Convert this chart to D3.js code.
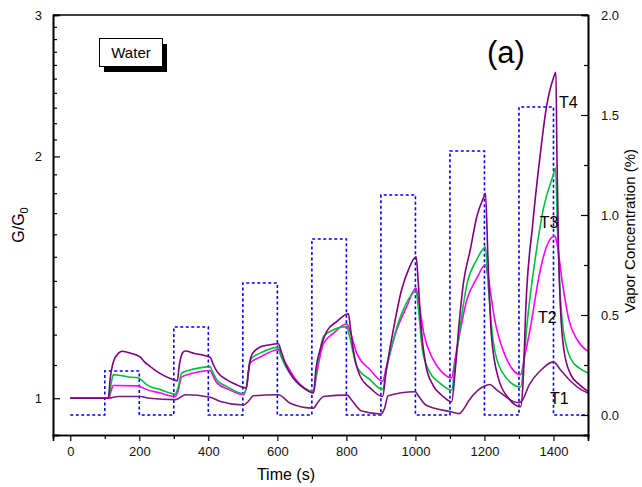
<!DOCTYPE html>
<html>
<head>
<meta charset="utf-8">
<script src="https://cdn.jsdelivr.net/npm/d3@7"></script>
<style>
  html, body { margin: 0; padding: 0; background: #fff; overflow: hidden; }
  svg { display: block; }
  text { font-family: "Liberation Sans", Arial, sans-serif; }
</style>
</head>
<body>
<div id="chart"></div>
<script>
// G/G0 response of four sensors (T1..T4) to water vapour pulses

const xTicks = [0, 200, 400, 600, 800, 1000, 1200, 1400];
const xMinor = [100, 300, 500, 700, 900, 1100, 1300, 1500];
const gTicks = [1, 2, 3];
const gMinor = [1.1, 1.2, 1.3, 1.4, 1.5, 1.6, 1.7, 1.8, 1.9, 2.1, 2.2, 2.3, 2.4, 2.5, 2.6, 2.7, 2.8, 2.9];
const cTicks = [0, 0.5, 1.0, 1.5, 2.0];
const cMinor = [0.25, 0.75, 1.25, 1.75];

// vapour concentration steps (%)
const pulseTime = [0, 100, 100, 200, 200, 300, 300, 400, 400, 500, 500, 600, 600, 700, 700, 800, 800, 900, 900, 1000, 1000, 1100, 1100, 1200, 1200, 1300, 1300, 1400, 1400, 1500];
const pulseConc = [0, 0, 0.22, 0.22, 0, 0, 0.44, 0.44, 0, 0, 0.66, 0.66, 0, 0, 0.88, 0.88, 0, 0, 1.10, 1.10, 0, 0, 1.32, 1.32, 0, 0, 1.54, 1.54, 0, 0];

// T4
const t4Time = [0, 110, 116, 125, 140, 150, 175, 203, 215, 232, 261, 290, 310, 316, 326, 333, 360, 405, 415, 425, 454, 480, 510, 516, 526, 550, 575, 603, 612, 627, 646, 670, 705, 712, 724, 743, 772, 806, 812, 820, 840, 869, 905, 915, 936, 960, 980, 1002, 1008, 1015, 1030, 1050, 1075, 1105, 1115, 1125, 1139, 1159, 1178, 1198, 1203, 1210, 1220, 1240, 1270, 1305, 1312, 1320, 1340, 1361, 1380, 1400, 1407, 1410, 1415, 1420, 1430, 1450, 1475, 1500];
const t4Vals = [1.0, 1.0, 1.06, 1.11, 1.138, 1.144, 1.138, 1.125, 1.11, 1.095, 1.073, 1.058, 1.051, 1.10, 1.14, 1.145, 1.137, 1.125, 1.10, 1.08, 1.054, 1.04, 1.03, 1.08, 1.133, 1.158, 1.165, 1.169, 1.14, 1.095, 1.06, 1.035, 1.015, 1.09, 1.149, 1.211, 1.246, 1.274, 1.22, 1.149, 1.065, 1.03, 1.005, 1.08, 1.217, 1.365, 1.446, 1.50, 1.40, 1.25, 1.10, 1.04, 1.01, 0.99, 1.08, 1.217, 1.391, 1.531, 1.684, 1.78, 1.80, 1.50, 1.20, 1.06, 1.0, 0.976, 1.05, 1.30, 1.65, 2.0, 2.31, 2.505, 2.546, 2.0, 1.5, 1.3, 1.15, 1.07, 1.04, 1.02];

// T3
const t3Time = [0, 112, 118, 125, 140, 170, 198, 205, 222, 261, 304, 312, 323, 357, 405, 412, 425, 454, 502, 512, 521, 550, 603, 610, 627, 646, 705, 712, 734, 753, 801, 808, 830, 869, 905, 915, 940, 965, 1002, 1008, 1020, 1040, 1070, 1105, 1115, 1150, 1178, 1203, 1210, 1225, 1250, 1305, 1315, 1322, 1351, 1370, 1400, 1406, 1412, 1419, 1428, 1450, 1475, 1500];
const t3Vals = [1.0, 1.0, 1.04, 1.07, 1.068, 1.063, 1.06, 1.055, 1.039, 1.025, 1.012, 1.03, 1.075, 1.087, 1.095, 1.08, 1.054, 1.034, 1.013, 1.04, 1.117, 1.138, 1.157, 1.13, 1.09, 1.06, 1.02, 1.07, 1.194, 1.211, 1.228, 1.20, 1.095, 1.054, 1.025, 1.08, 1.20, 1.289, 1.358, 1.30, 1.15, 1.08, 1.045, 1.023, 1.10, 1.391, 1.488, 1.542, 1.40, 1.18, 1.08, 1.033, 1.12, 1.217, 1.531, 1.716, 1.90, 1.935, 1.60, 1.36, 1.22, 1.12, 1.09, 1.075];

// T2
const t2Time = [0, 112, 118, 125, 198, 205, 222, 261, 304, 312, 323, 357, 405, 412, 425, 460, 502, 512, 521, 550, 603, 610, 627, 650, 705, 712, 734, 763, 801, 808, 830, 869, 905, 915, 946, 975, 1002, 1008, 1025, 1050, 1075, 1105, 1115, 1150, 1178, 1203, 1210, 1230, 1260, 1305, 1315, 1332, 1360, 1380, 1404, 1410, 1425, 1445, 1470, 1500];
const t2Vals = [1.0, 1.0, 1.02, 1.037, 1.036, 1.033, 1.025, 1.015, 1.005, 1.02, 1.063, 1.075, 1.083, 1.07, 1.045, 1.025, 1.01, 1.04, 1.106, 1.125, 1.149, 1.13, 1.10, 1.06, 1.02, 1.06, 1.171, 1.205, 1.238, 1.22, 1.138, 1.085, 1.05, 1.09, 1.217, 1.301, 1.371, 1.33, 1.20, 1.12, 1.08, 1.06, 1.12, 1.33, 1.411, 1.466, 1.42, 1.25, 1.13, 1.07, 1.12, 1.217, 1.432, 1.545, 1.593, 1.56, 1.40, 1.25, 1.18, 1.144];

// T1
const t1Time = [0, 110, 125, 140, 203, 230, 304, 315, 333, 405, 435, 502, 515, 531, 603, 637, 705, 715, 734, 802, 815, 844, 900, 910, 921, 999, 1010, 1030, 1103, 1127, 1140, 1154, 1206, 1215, 1237, 1299, 1310, 1330, 1360, 1400, 1420, 1450, 1480, 1500];
const t1Vals = [1.0, 1.0, 1.003, 1.005, 1.005, 1.0, 0.996, 1.0, 1.01, 1.003, 0.991, 0.981, 0.99, 1.007, 1.01, 0.986, 0.972, 0.985, 1.005, 1.009, 0.995, 0.964, 0.956, 0.97, 1.007, 1.019, 1.005, 0.981, 0.962, 0.957, 0.97, 0.992, 1.038, 1.04, 1.023, 0.987, 0.995, 1.04, 1.08, 1.11, 1.085, 1.05, 1.025, 1.015];

const series = [
  { name: "T2", time: t2Time, vals: t2Vals, color: "#ff00ff" },
  { name: "T3", time: t3Time, vals: t3Vals, color: "#00c040" },
  { name: "T1", time: t1Time, vals: t1Vals, color: "#7a1a7a" },
  { name: "T4", time: t4Time, vals: t4Vals, color: "#800080" }
];

const width = 642, height = 487;
const margin = { top: 15, right: 54, bottom: 52, left: 53 };
const innerWidth = width - margin.left - margin.right;
const innerHeight = height - margin.top - margin.bottom;

const svg = d3.select("#chart").append("svg")
  .attr("width", width)
  .attr("height", height);

const g = svg.append("g")
  .attr("transform", `translate(${margin.left},${margin.top})`);

const x = d3.scaleLinear().domain([-50, 1500]).range([0, innerWidth]);
const y = d3.scaleLog().domain([0.9, 3]).range([innerHeight, 0]);
const yc = d3.scaleLinear().domain([-0.1, 2.0]).range([innerHeight, 0]);

// vapour pulses
const pulses = pulseTime.map((t, i) => ({ t: t, c: pulseConc[i] }));
g.append("path")
  .datum(pulses)
  .attr("fill", "none")
  .attr("stroke", "#0000ff")
  .attr("stroke-width", 1.6)
  .attr("stroke-dasharray", "3,2.5")
  .attr("d", d3.line().x(d => x(d.t)).y(d => yc(d.c)));

// response curves
const line = d3.line()
  .curve(d3.curveMonotoneX)
  .x(d => x(d.t))
  .y(d => y(d.v));

series.forEach(s => {
  const pts = s.time.map((t, i) => ({ t: t, v: s.vals[i] }));
  g.append("path")
    .datum(pts)
    .attr("fill", "none")
    .attr("stroke", s.color)
    .attr("stroke-width", 1.6)
    .attr("d", line);
});

// axes
const fs = "13px";
const bottom = g.append("g")
  .attr("transform", `translate(0,${innerHeight})`)
  .call(d3.axisBottom(x).tickValues(xTicks).tickSize(6).tickPadding(6).tickFormat(d3.format("d")));
bottom.append("g").call(d3.axisBottom(x).tickValues(xMinor).tickSize(4).tickFormat(""));

const left = g.append("g")
  .call(d3.axisLeft(y).tickValues(gTicks).tickSize(-7).tickPadding(11).tickFormat(d3.format("d")));
left.append("g").call(d3.axisLeft(y).tickValues(gMinor).tickSize(-4).tickFormat(""));

const right = g.append("g")
  .attr("transform", `translate(${innerWidth},0)`)
  .call(d3.axisRight(yc).tickValues(cTicks).tickSize(-7).tickPadding(13).tickFormat(d3.format(".1f")));
right.append("g").call(d3.axisRight(yc).tickValues(cMinor).tickSize(-4).tickFormat(""));

// minor tick groups carry empty labels; drop them
g.selectAll(".tick text").filter(function () { return this.textContent === ""; }).remove();

g.append("line")
  .attr("x1", 0).attr("x2", innerWidth)
  .attr("y1", 0).attr("y2", 0)
  .attr("stroke", "#000").attr("stroke-width", 1.6);

g.selectAll(".domain").attr("stroke-width", 1.6);
g.selectAll(".tick line").attr("stroke-width", 1.2);
g.selectAll(".tick text")
  .attr("font-family", "Liberation Sans, Arial, sans-serif")
  .attr("font-size", fs)
  .attr("fill", "#111");

// axis titles
svg.append("text")
  .attr("x", margin.left + x(625))
  .attr("y", 480)
  .attr("text-anchor", "middle")
  .attr("font-size", "16px")
  .text("Time (s)");

const gt = svg.append("text")
  .attr("transform", `translate(24,${margin.top + innerHeight / 2}) rotate(-90)`)
  .attr("text-anchor", "middle")
  .attr("font-size", "16px");
gt.append("tspan").text("G/G");
gt.append("tspan").attr("font-size", "11px").attr("dy", 4).text("0");

svg.append("text")
  .attr("transform", `translate(635,${margin.top + innerHeight / 2 + 6}) rotate(-90)`)
  .attr("text-anchor", "middle")
  .attr("font-size", "15px")
  .text("Vapor Concentration (%)");

// Water label with shadow
svg.append("rect")
  .attr("x", 104).attr("y", 44)
  .attr("width", 63).attr("height", 28)
  .attr("fill", "#000");
svg.append("rect")
  .attr("x", 99.5).attr("y", 38.5)
  .attr("width", 63).attr("height", 28)
  .attr("fill", "#fff")
  .attr("stroke", "#000")
  .attr("stroke-width", 1);
svg.append("text")
  .attr("x", 131).attr("y", 58)
  .attr("text-anchor", "middle")
  .attr("font-size", "15px")
  .text("Water");

svg.append("text")
  .attr("x", 506).attr("y", 63)
  .attr("text-anchor", "middle")
  .attr("font-size", "31px")
  .text("(a)");

// curve labels
const labels = [
  { name: "T4", t: 1416, v: 2.3 },
  { name: "T3", t: 1360, v: 1.63 },
  { name: "T2", t: 1355, v: 1.24 },
  { name: "T1", t: 1390, v: 0.985 }
];
labels.forEach(l => {
  g.append("text")
    .attr("x", x(l.t))
    .attr("y", y(l.v))
    .attr("font-size", "16px")
    .text(l.name);
});
</script>
</body>
</html>
